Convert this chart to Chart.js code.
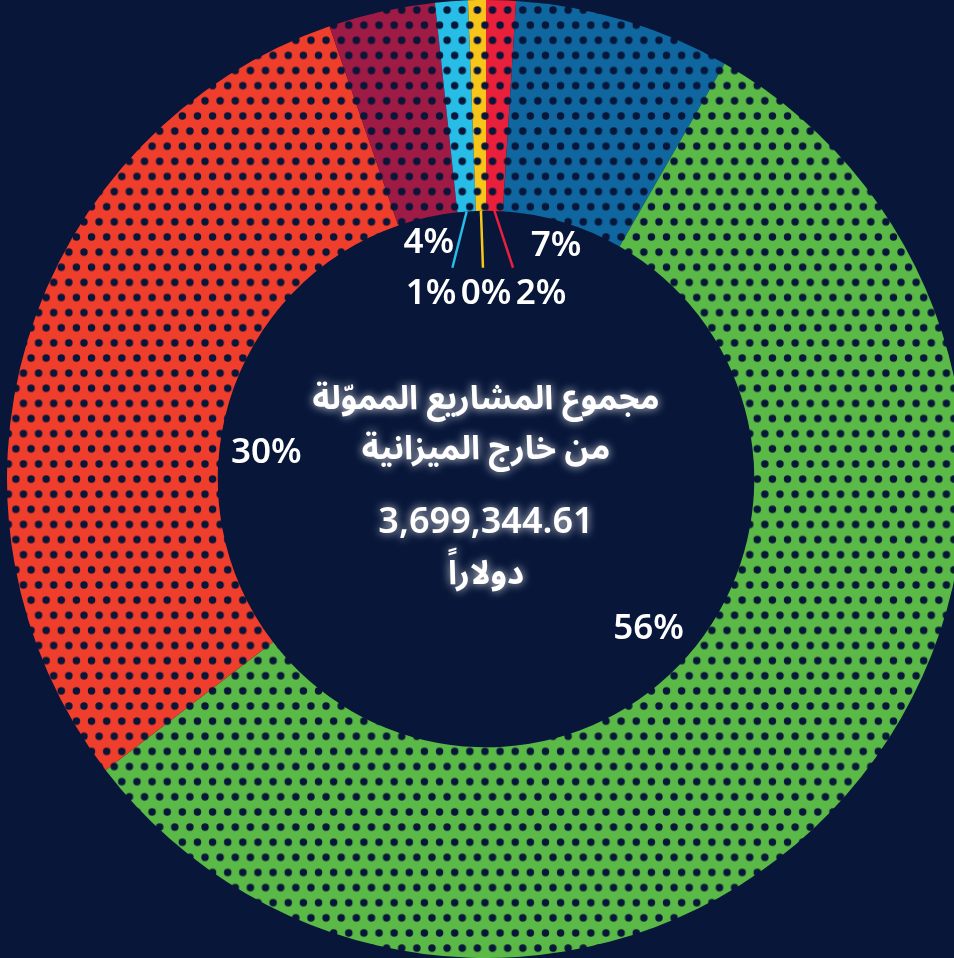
<!DOCTYPE html>
<html lang="ar">
<head>
<meta charset="utf-8">
<title>مجموع المشاريع المموّلة من خارج الميزانية</title>
<script src="https://cdn.jsdelivr.net/npm/chart.js@4.4.1/dist/chart.umd.min.js"></script>
<style>
    html, body { margin: 0; padding: 0; background: #071639; overflow: hidden; }
    #wrap { width: 972px; height: 958px; position: relative; }
</style>
</head>
<body>
<div id="wrap"><canvas id="fundChart"></canvas></div>
<script>
// slices, clockwise from 12 o'clock
const sliceKeys = ['red', 'blue', 'green', 'orange', 'crimson', 'lightBlue', 'yellow'];
const shareValues = [1.0, 7.3, 56.3, 30.1, 3.6, 1.1, 0.6];
const shareLabels = ['2%', '7%', '56%', '30%', '4%', '1%', '0%'];
const sliceColors = ['#e8203b', '#10679f', '#5ab947', '#f03e2d', '#9d1b45', '#27bde6', '#f8c51b'];

const centerTitle = ['مجموع المشاريع المموّلة', 'من خارج الميزانية'];
const centerAmount = '3,699,344.61';
const centerUnit = 'دولاراً';

const bgColor = '#071639';

const canvas = document.getElementById('fundChart');
const mainCtx = canvas.getContext('2d');

// dotted fill, same dark navy dots as the background (staggered grid)
const dotted = (color) => {
    const tile = document.createElement('canvas');
    tile.width = 15;
    tile.height = 30;
    const c = tile.getContext('2d');
    c.fillStyle = color;
    c.fillRect(0, 0, 15, 30);
    c.fillStyle = bgColor;
    [[0, 0], [15, 0], [0, 30], [15, 30], [7.5, 15]].forEach(([x, y]) => {
        c.beginPath();
        c.arc(x, y, 3.7, 0, Math.PI * 2);
        c.fill();
    });
    const pattern = mainCtx.createPattern(tile, 'repeat');
    pattern.setTransform(new DOMMatrix().translate(401.7, 10).scale(1.0087));
    return pattern;
};

const sliceLabels = {
    id: 'sliceLabels',
    afterDatasetsDraw(chart, args, opts) {
        const ctx = chart.ctx;
        const arcs = chart.getDatasetMeta(0).data;
        const cx = arcs[0].x, cy = arcs[0].y;
        const inner = arcs[0].innerRadius;

        ctx.save();
        ctx.font = opts.font;
        ctx.fillStyle = '#ffffff';
        ctx.textAlign = 'center';
        ctx.textBaseline = 'middle';

        let small = [];
        arcs.forEach((arc, i) => {
            const mid = (arc.startAngle + arc.endAngle) / 2;
            if (shareValues[i] < opts.leaderBelow) {
                small.push({ i: i, sx: cx + inner * Math.cos(mid), sy: cy + inner * Math.sin(mid) });
                return;
            }
            const r = shareValues[i] > 20 ? inner - 47 : inner - 25;
            const a = mid + (opts.angleShift[i] || 0) * Math.PI / 180;
            ctx.fillText(shareLabels[i], cx + r * Math.cos(a), cy + r * Math.sin(a));
        });

        // small slices: leader lines down to one row of labels
        small.sort((a, b) => a.sx - b.sx);
        const rowY = cy - inner + 83;
        const lineEndY = cy - inner + 57;
        small.forEach((s, k) => {
            const lx = cx + (k - (small.length - 1) / 2) * opts.rowGap;
            const ex = s.sx + 0.4 * (lx - s.sx);
            ctx.strokeStyle = sliceColors[s.i];
            ctx.lineWidth = 2.5;
            ctx.beginPath();
            ctx.moveTo(s.sx, s.sy);
            ctx.lineTo(ex, lineEndY);
            ctx.stroke();
            ctx.fillText(shareLabels[s.i], lx, rowY);
        });
        ctx.restore();

        // center text with a soft white glow
        ctx.save();
        ctx.fillStyle = '#ffffff';
        ctx.textAlign = 'center';
        ctx.textBaseline = 'middle';
        ctx.shadowColor = 'rgba(255,255,255,0.85)';
        ctx.shadowBlur = 10;
        const lines = [
            [centerTitle[0], opts.arabicFont, -75],
            [centerTitle[1], opts.arabicFont, -25],
            [centerAmount, opts.numberFont, 44],
            [centerUnit, opts.arabicFont, 100]
        ];
        lines.forEach(l => {
            ctx.font = l[1];
            ctx.fillText(l[0], cx, cy + l[2]);
        });
        ctx.restore();
    }
};

new Chart(canvas, {
    type: 'doughnut',
    data: {
        labels: sliceKeys,
        datasets: [{
            data: shareValues,
            backgroundColor: sliceColors.map(dotted),
            borderWidth: 0
        }]
    },
    options: {
        responsive: true,
        maintainAspectRatio: false,
        animation: false,
        cutout: '56%',
        layout: { padding: 0 },
        events: [],
        plugins: {
            legend: { display: false },
            tooltip: { enabled: false },
            sliceLabels: {
                font: '600 35px "Noto Sans", "Open Sans", sans-serif',
                arabicFont: 'bold 33px "Noto Sans Arabic", "DejaVu Sans", sans-serif',
                numberFont: '600 36px "Noto Sans", "Open Sans", sans-serif',
                leaderBelow: 2,
                rowGap: 55,
                angleShift: { 2: 1.5, 3: -10, 4: -1 }
            }
        }
    },
    plugins: [sliceLabels]
});
</script>
</body>
</html>
